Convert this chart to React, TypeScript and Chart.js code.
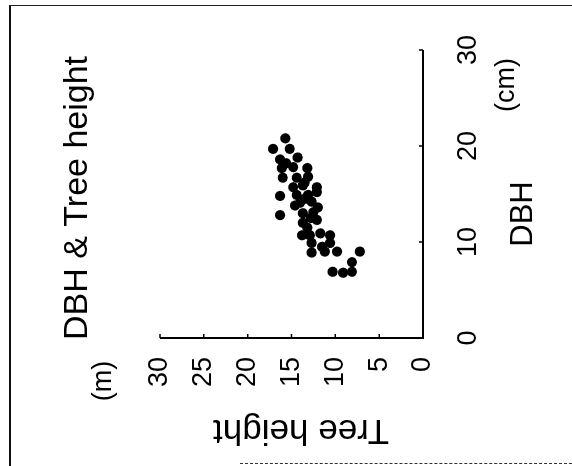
import React, { useEffect, useRef } from "react";
import { Chart, registerables } from "chart.js";

Chart.register(...registerables);

// DBH (cm) and tree height (m) of the sampled trees
const dbhCm: number[] = [
  20.8, 19.7, 19.7, 18.6, 18.8, 17.7, 17.8, 17.7, 16.7, 16.7,
  16.8, 15.7, 15.9, 15.7, 14.8, 14.9, 14.9, 15.2, 14.1, 14.2,
  12.8, 13.0, 13.1, 13.6, 12.0, 12.3, 10.7, 10.7, 10.9, 10.7,
  9.9, 9.9, 8.9, 9.0, 9.0, 9.0, 7.9, 6.9, 6.8, 6.9,
  16.2, 14.5, 12.5, 11.5, 9.5, 18.2, 13.8,
];
const treeHeightM: number[] = [
  15.7, 17.1, 15.2, 16.3, 14.3, 16.1, 14.8, 13.2, 16.0, 14.4,
  13.1, 14.8, 13.7, 12.1, 16.3, 14.4, 13.1, 12.1, 14.0, 12.7,
  16.3, 13.7, 12.5, 12.0, 13.7, 12.1, 13.8, 12.9, 11.7, 10.6,
  12.7, 10.6, 12.7, 11.2, 9.8, 7.2, 8.1, 10.3, 9.1, 8.1,
  13.5, 13.5, 12.8, 13.2, 11.5, 15.6, 14.6,
];

const dbhTicks: number[] = [0, 10, 20, 30];
const heightTicks: number[] = [0, 5, 10, 15, 20, 25, 30];

const chartTitle = "DBH & Tree height";
const xTitle = "DBH";
const xUnit = "(cm)";
const yTitle = "Tree height";
const yUnit = "(m)";

const FONT = "'Liberation Sans', Arial, Helvetica, sans-serif";
const INK = "#000";

// the figure is laid out upright on a 466x572 canvas, then the page turns it a quarter turn
const W = 466;
const H = 572;

const framePlugin = {
  id: "frameAndLabels",
  afterDraw(chart: any) {
    const { ctx, chartArea, scales } = chart;
    const xs = scales.x;
    const ys = scales.y;
    ctx.save();
    ctx.strokeStyle = INK;
    ctx.fillStyle = INK;

    // axis lines (left and bottom only)
    ctx.lineWidth = 2;
    ctx.beginPath();
    ctx.moveTo(chartArea.left, chartArea.top);
    ctx.lineTo(chartArea.left, chartArea.bottom);
    ctx.lineTo(chartArea.right, chartArea.bottom);
    ctx.stroke();

    // inward tick marks
    ctx.lineWidth = 1.5;
    ctx.beginPath();
    for (const v of dbhTicks) {
      const px = xs.getPixelForValue(v);
      ctx.moveTo(px, chartArea.bottom);
      ctx.lineTo(px, chartArea.bottom - 4);
    }
    for (const v of heightTicks) {
      const py = ys.getPixelForValue(v);
      ctx.moveTo(chartArea.left, py);
      ctx.lineTo(chartArea.left + 4, py);
    }
    ctx.stroke();

    // chart title
    ctx.textAlign = "center";
    ctx.textBaseline = "alphabetic";
    ctx.font = `34px ${FONT}`;
    ctx.fillText(chartTitle, 268, 87);

    // x axis title and unit
    ctx.font = `31px ${FONT}`;
    ctx.fillText(xTitle, 252, 532);
    ctx.font = `27px ${FONT}`;
    ctx.fillText(xUnit, 381, 514);

    // y axis unit
    ctx.font = `27px ${FONT}`;
    ctx.fillText(yUnit, 85, 111);

    // y axis title, reading upwards
    ctx.save();
    ctx.translate(46, 301);
    ctx.rotate(-Math.PI / 2);
    ctx.font = `35px ${FONT}`;
    ctx.fillText(yTitle, 0, 0);
    ctx.restore();

    ctx.restore();
  },
};

export default function App() {
  const canvasRef = useRef<HTMLCanvasElement | null>(null);

  useEffect(() => {
    const canvas = canvasRef.current;
    if (!canvas) return;
    const points = dbhCm.map((d, i) => ({ x: d, y: treeHeightM[i] }));
    const chart = new Chart(canvas, {
      type: "scatter",
      data: {
        datasets: [
          {
            data: points,
            backgroundColor: INK,
            borderColor: INK,
            borderWidth: 0,
            pointRadius: 5.1,
            pointHoverRadius: 5.1,
          },
        ],
      },
      options: {
        animation: false,
        responsive: false,
        maintainAspectRatio: false,
        devicePixelRatio: 1,
        layout: { padding: { left: 0, right: 50, top: 160, bottom: 0 } },
        plugins: {
          legend: { display: false },
          tooltip: { enabled: false },
          title: { display: false },
        },
        scales: {
          x: {
            type: "linear",
            position: "bottom",
            min: 0,
            max: 30,
            grid: { display: false, drawTicks: false },
            border: { display: false },
            ticks: {
              stepSize: 10,
              padding: 29,
              maxRotation: 0,
              autoSkip: false,
              color: INK,
              font: { family: FONT, size: 27 },
            },
            afterFit: (s: any) => {
              s.height = 149;
            },
          },
          y: {
            type: "linear",
            position: "left",
            min: 0,
            max: 30,
            grid: { display: false, drawTicks: false },
            border: { display: false },
            ticks: {
              stepSize: 5,
              padding: 19,
              autoSkip: false,
              color: INK,
              font: { family: FONT, size: 27 },
            },
            afterFit: (s: any) => {
              s.width = 128;
            },
          },
        },
      },
      plugins: [framePlugin],
    });
    return () => chart.destroy();
  }, []);

  return (
    <div
      style={{
        position: "fixed",
        left: 0,
        top: 0,
        width: 572,
        height: 466,
        overflow: "hidden",
        background: "#fff",
      }}
    >
      <div
        style={{
          position: "absolute",
          left: 0,
          top: 0,
          width: W,
          height: H,
          transformOrigin: "0 0",
          transform: `translateY(${W}px) rotate(-90deg)`,
        }}
      >
        <canvas ref={canvasRef} width={W} height={H} style={{ width: W, height: H, display: "block" }} />
      </div>
      {/* sheet edges */}
      <div style={{ position: "absolute", left: 9, top: 5, width: 2, height: 461, background: "#111" }} />
      <div style={{ position: "absolute", left: 10, top: 5, width: 562, height: 1, background: "#222" }} />
      <div
        style={{
          position: "absolute",
          left: 240,
          top: 463,
          width: 332,
          height: 0,
          borderTop: "1px dashed #333",
        }}
      />
    </div>
  );
}
